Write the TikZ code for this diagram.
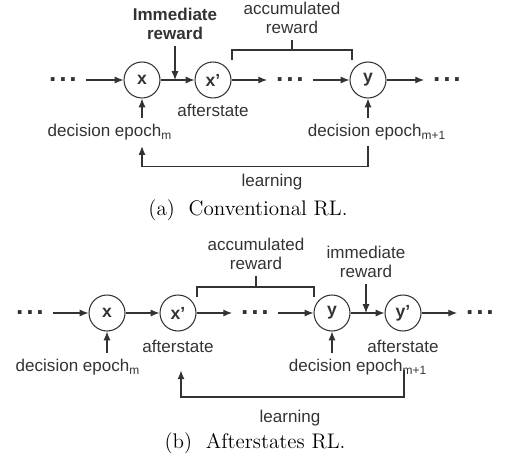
\documentclass[tikz,border=0pt]{standalone}
\usepackage{fontspec}
\newfontfamily\arial{Liberation Sans}
\usepackage{tikz}
\usetikzlibrary{arrows.meta,calc}
\definecolor{diagInk}{HTML}{333333}
\newcommand{\ellipsisdots}{.\kern1.6pt.\kern1.6pt.}

\begin{document}
\begin{tikzpicture}[
            x=0.02cm, y=-0.02cm,
            >=Latex,
            every node/.style={font=\arial\fontsize{9.7}{10.6}\selectfont, text=diagInk},
            state/.style={
                draw=diagInk,
                circle,
                line width=0.6pt,
                minimum size=0.72cm,
                inner sep=0pt,
                font=\arial\bfseries\fontsize{10}{11}\selectfont
            },
            dots/.style={inner xsep=5pt, inner ysep=1pt, font=\arial\bfseries\fontsize{15}{16}\selectfont},
            label/.style={align=center},
            arrow/.style={-{Latex[length=5pt, width=4pt]}, line width=0.6pt, draw=diagInk},
            brace/.style={line width=0.6pt, draw=diagInk},
            caption/.style={font=\fontsize{12}{14}\selectfont, text=black}
        ]
        \useasboundingbox (0,0) rectangle (509,465);

        %================ (a) Conventional RL =================%
        \node[dots] (dlA) at (63,80) {\ellipsisdots};
        \node[state] (xA) at (142,80) {x};
        \node[state] (xpA) at (213,80) {x’};
        \node[dots] (dmA) at (290,80) {\ellipsisdots};
        \node[state] (yA) at (368,80) {y};
        \node[dots] (drA) at (447,80) {\ellipsisdots};

        \node[label, font=\arial\bfseries\fontsize{9.7}{10.6}\selectfont] (irA) at (175,24) {Immediate\\reward};
        \node[label] (accA) at (292,18) {accumulated\\reward};
        \node (asA) at (213,110) {afterstate};
        \node (deA1) at (110,132) {decision epoch\textsubscript{m}};
        \node (deA2) at (377,132) {decision epoch\textsubscript{m+1}};
        \node (lrnA) at (272,182) {learning};
        \node[caption] (capA) at (248,210) {(a)~~Conventional RL.};

        \draw[arrow] (dlA) -- (xA);
        \draw[arrow] (xA) -- (xpA);
        \draw[arrow] (xpA) -- (dmA);
        \draw[arrow] (dmA) -- (yA);
        \draw[arrow] (yA) -- (drA);

        % immediate reward enters between x and x'
        \draw[arrow] (irA.south) -- (irA.south |- xA);

        % bracket over the accumulated part
        \coordinate (brA) at (292,50);
        \draw[brace] (232,60) |- (352,50) -- (352,60);
        \draw[brace] (accA.south) -- (brA);

        % decision epochs
        \draw[arrow] (xA |- deA1.north) -- (xA.south);
        \draw[arrow] (yA |- deA2.north) -- (yA.south);

        % learning loop
        \draw[arrow] (yA |- deA2.south) -- ($(yA |- deA2.south)+(0,20)$) -| (xA |- deA1.south);

        %================ (b) Afterstates RL =================%
        \node[dots] (dlB) at (30,313) {\ellipsisdots};
        \node[state] (xB) at (107,313) {x};
        \node[state] (xpB) at (178,313) {x’};
        \node[dots] (dmB) at (255,313) {\ellipsisdots};
        \node[state] (yB) at (332,313) {y};
        \node[state] (ypB) at (403,313) {y’};
        \node[dots] (drB) at (480,313) {\ellipsisdots};

        \node[label] (irB) at (366,262) {immediate\\reward};
        \node[label] (accB) at (256,254) {accumulated\\reward};
        \node (asB1) at (178,346) {afterstate};
        \node (asB2) at (403,346) {afterstate};
        \node (deB1) at (78,367) {decision epoch\textsubscript{m}};
        \node (deB2) at (358,367) {decision epoch\textsubscript{m+1}};
        \node (lrnB) at (290,418) {learning};
        \node[caption] (capB) at (255,443) {(b)~~Afterstates RL.};

        \draw[arrow] (dlB) -- (xB);
        \draw[arrow] (xB) -- (xpB);
        \draw[arrow] (xpB) -- (dmB);
        \draw[arrow] (dmB) -- (yB);
        \draw[arrow] (yB) -- (ypB);
        \draw[arrow] (ypB) -- (drB);

        % immediate reward enters between y and y'
        \draw[arrow] (irB.south) -- (irB.south |- yB);

        % bracket over the accumulated part
        \coordinate (brB) at (256,287);
        \draw[brace] (197,297) |- (314,287) -- (314,297);
        \draw[brace] (accB.south) -- (brB);

        % decision epochs
        \draw[arrow] (xB |- deB1.north) -- (xB.south);
        \draw[arrow] (yB |- deB2.north) -- (yB.south);

        % learning loop, back to the afterstate
        \coordinate (lpB) at (404,370);
        \draw[arrow] (lpB) -- ++(0,27) -| ($(asB1.south)+(3,12)$);

        \end{tikzpicture}
\end{document}
